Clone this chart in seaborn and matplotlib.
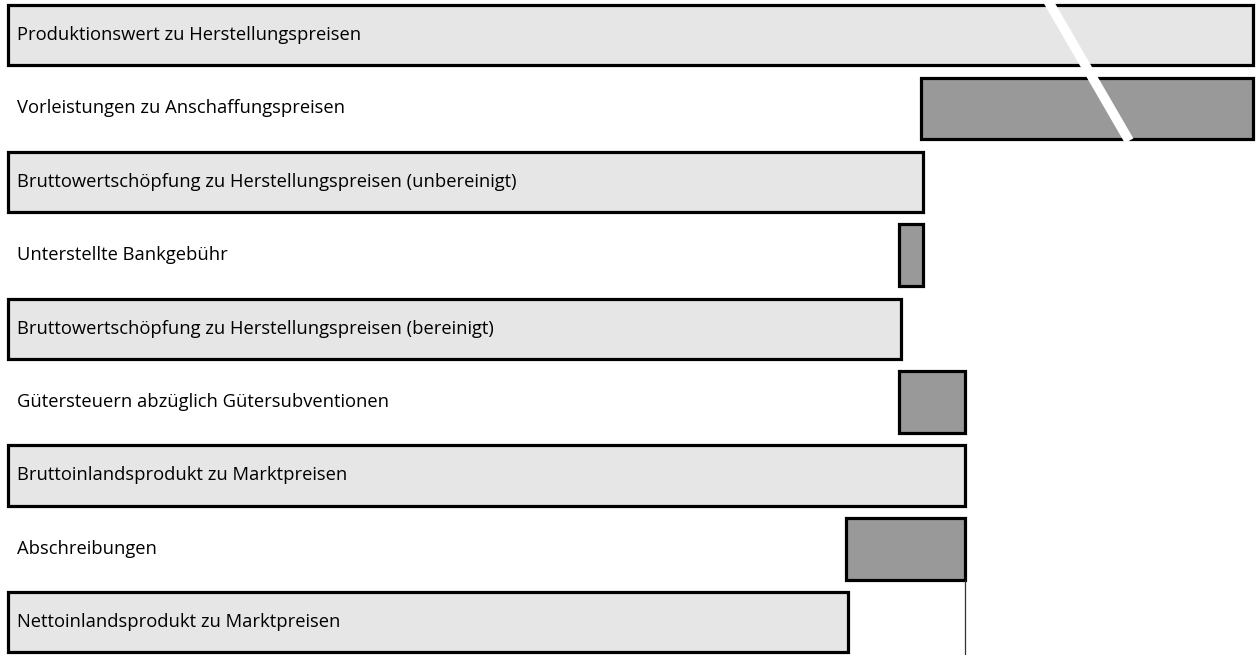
import matplotlib.pyplot as plt
import pandas as pd
import seaborn as sns

labels = ['Produktionswert zu Herstellungspreisen',
          'Vorleistungen zu Anschaffungspreisen',
          'Bruttowertschöpfung zu Herstellungspreisen (unbereinigt)',
          'Unterstellte Bankgebühr',
          'Bruttowertschöpfung zu Herstellungspreisen (bereinigt)',
          'Gütersteuern abzüglich Gütersubventionen',
          'Bruttoinlandsprodukt zu Marktpreisen',
          'Abschreibungen',
          'Nettoinlandsprodukt zu Marktpreisen']
starts = [0, 913, 0, 891, 0, 891, 0, 838, 0]
ends = [1245, 1245, 915, 915, 893, 957, 957, 957, 840]
kinds = ['Summe', 'Posten', 'Summe', 'Posten', 'Summe', 'Posten', 'Summe', 'Posten', 'Summe']

df = pd.DataFrame({'label': labels, 'start': starts, 'end': ends, 'kind': kinds})
df['total'] = df['end'].where(df['kind'] == 'Summe')

sns.set_style("white")
plt.rcParams['font.family'] = ['Open Sans', 'DejaVu Sans']

fig = plt.figure(figsize=(12.56, 6.55), dpi=100)
ax = fig.add_axes([0, 0, 1, 1])

# Summenbalken (hellgrau) mit seaborn
sns.barplot(data=df, x='total', y='label', color='#e6e6e6', width=0.82,
            edgecolor='black', linewidth=2.3, ax=ax, saturation=1)

# Einzelposten (dunkelgrau) schwebend
posten = df[df['kind'] == 'Posten']
ax.barh(posten.index, posten['end'] - posten['start'], left=posten['start'],
        height=0.84, color='#999999', edgecolor='black', linewidth=2.3)

for i, lab in enumerate(df['label']):
    ax.text(9, i, lab, va='center', ha='left', fontsize=13.2, color='black')

# senkrechte Bezugslinie unter den Abschreibungen
bip = df.loc[6, 'end']
ax.vlines(bip, 7.42, 8.6, color='#333333', linewidth=0.9)

ax.set_xlim(-8, 1248)
ax.set_ylim(8.446, -0.477)

# Bruchlinie durch die gekappten Balken
ax.plot([0.834, 0.899], [1.0, 0.785], transform=ax.transAxes,
        color='white', linewidth=7, solid_capstyle='butt', clip_on=False)

ax.set_axis_off()
fig.savefig('out.png', dpi=100)
